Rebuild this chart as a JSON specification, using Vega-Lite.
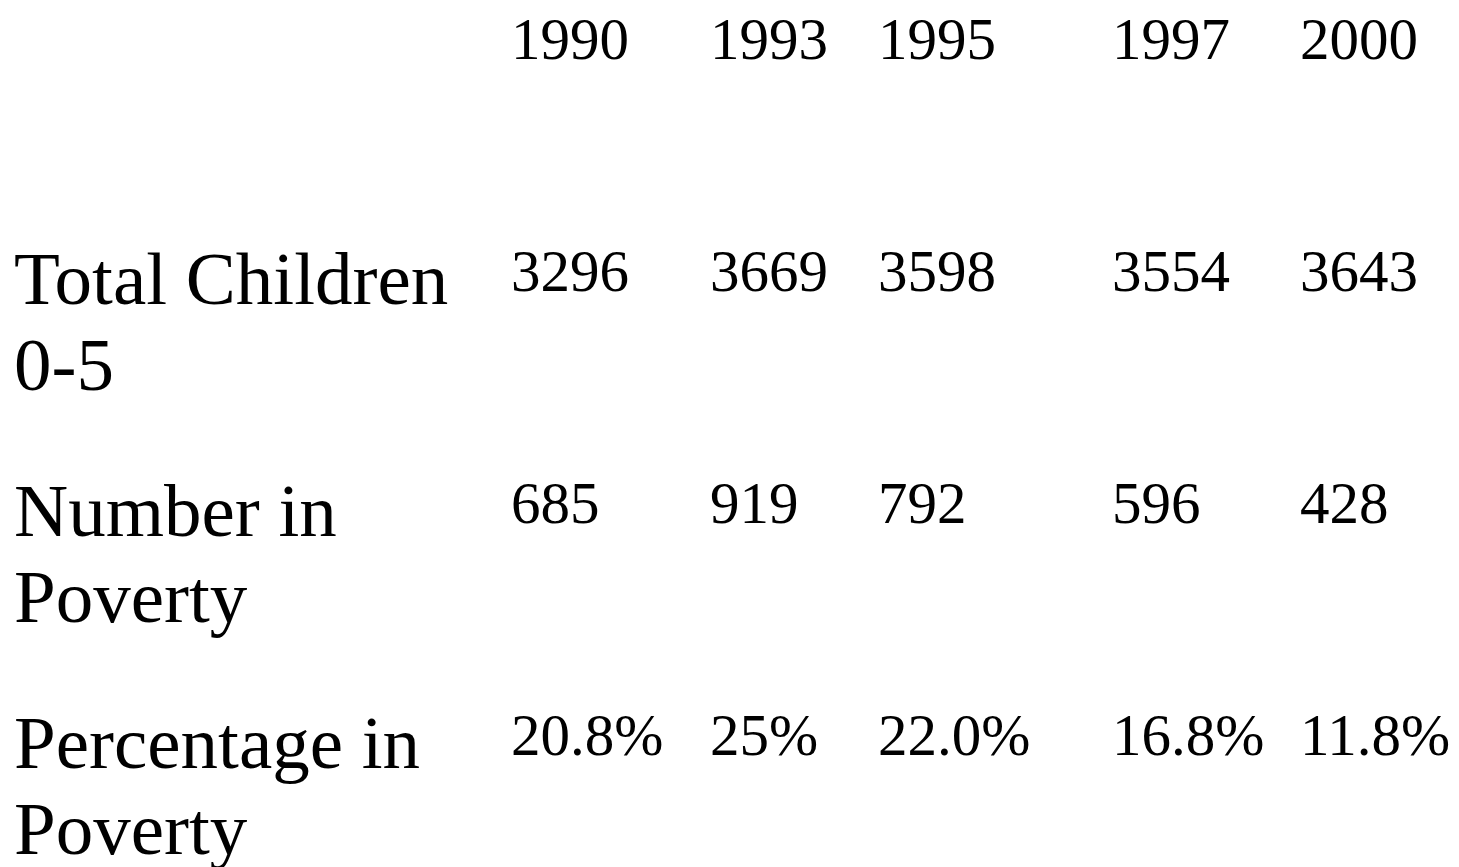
{
  "$schema": "https://vega.github.io/schema/vega-lite/v6.json",
  "width": 1459,
  "height": 867,
  "padding": 0,
  "autosize": {"type": "none"},
  "background": "white",
  "config": {"view": {"stroke": null}},
  "datasets": {
    "cells": [
      {"measure": "Year", "year": 1990, "display": "1990"},
      {"measure": "Year", "year": 1993, "display": "1993"},
      {"measure": "Year", "year": 1995, "display": "1995"},
      {"measure": "Year", "year": 1997, "display": "1997"},
      {"measure": "Year", "year": 2000, "display": "2000"},
      {"measure": "Total Children 0-5", "year": 1990, "display": "3296"},
      {"measure": "Total Children 0-5", "year": 1993, "display": "3669"},
      {"measure": "Total Children 0-5", "year": 1995, "display": "3598"},
      {"measure": "Total Children 0-5", "year": 1997, "display": "3554"},
      {"measure": "Total Children 0-5", "year": 2000, "display": "3643"},
      {"measure": "Number in Poverty", "year": 1990, "display": "685"},
      {"measure": "Number in Poverty", "year": 1993, "display": "919"},
      {"measure": "Number in Poverty", "year": 1995, "display": "792"},
      {"measure": "Number in Poverty", "year": 1997, "display": "596"},
      {"measure": "Number in Poverty", "year": 2000, "display": "428"},
      {"measure": "Percentage in Poverty", "year": 1990, "display": "20.8%"},
      {"measure": "Percentage in Poverty", "year": 1993, "display": "25%"},
      {"measure": "Percentage in Poverty", "year": 1995, "display": "22.0%"},
      {"measure": "Percentage in Poverty", "year": 1997, "display": "16.8%"},
      {"measure": "Percentage in Poverty", "year": 2000, "display": "11.8%"}
    ],
    "labels": [
      {"measure": "Total Children 0-5", "label": "Total Children\n0-5"},
      {"measure": "Number in Poverty", "label": "Number in\nPoverty"},
      {"measure": "Percentage in Poverty", "label": "Percentage in\nPoverty"}
    ]
  },
  "layer": [
    {
      "data": {"name": "cells"},
      "mark": {"type": "text", "align": "left", "baseline": "alphabetic", "font": "Liberation Serif", "fontSize": 59, "color": "black"},
      "encoding": {
        "x": {"field": "year", "type": "quantitative", "scale": {"domain": [1990, 1993, 1995, 1997, 2000], "range": [511, 710, 878, 1112, 1300]}, "axis": null},
        "y": {"field": "measure", "type": "ordinal", "scale": {"type": "point", "padding": 0, "domain": ["Year", "Total Children 0-5", "Number in Poverty", "Percentage in Poverty"], "range": [59, 755]}, "axis": null},
        "text": {"field": "display"}
      }
    },
    {
      "data": {"name": "labels"},
      "mark": {"type": "text", "align": "left", "baseline": "alphabetic", "font": "Liberation Serif", "fontSize": 75, "lineHeight": 86, "lineBreak": "\n", "dy": 13, "color": "black"},
      "encoding": {
        "x": {"value": 14},
        "y": {"field": "measure", "type": "ordinal", "scale": {"type": "point", "padding": 0, "domain": ["Year", "Total Children 0-5", "Number in Poverty", "Percentage in Poverty"], "range": [59, 755]}, "axis": null},
        "text": {"field": "label"}
      }
    }
  ]
}
